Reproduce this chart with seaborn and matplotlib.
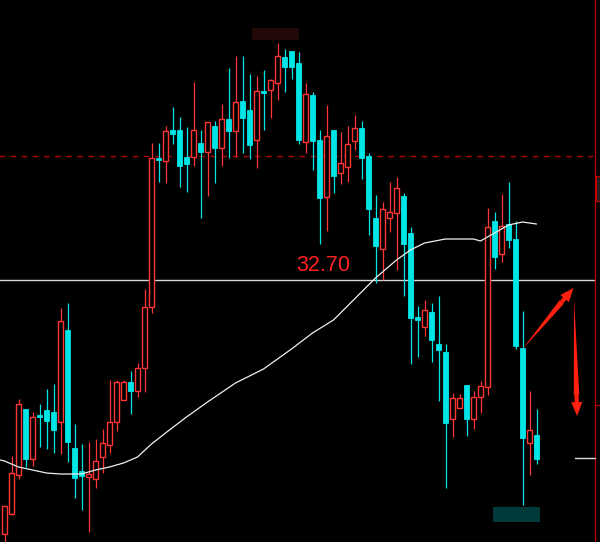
import numpy as np
import pandas as pd
import matplotlib
matplotlib.use("Agg")
import matplotlib.pyplot as plt
import seaborn as sns
from matplotlib.patches import Rectangle, FancyArrowPatch

# ======== DATA ==============================
opens = [27.62, 28.02, 28.80, 30.12, 29.12, 30.00, 30.10, 30.06, 29.86, 31.70,
         29.34, 28.88, 28.76, 28.72, 29.16, 29.40, 29.86, 30.30, 30.66, 30.48,
         30.94, 32.16, 35.14, 35.08, 35.70, 35.70, 35.16, 35.16, 35.44, 35.26,
         35.78, 35.34, 35.92, 35.68, 36.28, 36.10, 35.50, 36.48, 36.50, 36.64,
         37.16, 37.28, 37.04, 35.46, 36.40, 35.50, 34.36, 35.70, 34.84, 34.96,
         35.48, 35.74, 35.18, 33.94, 33.32, 33.94, 34.04, 34.38, 33.64, 31.96,
         31.76, 32.06, 31.42, 31.26, 29.92, 30.14, 30.60, 29.92, 30.36, 30.56,
         33.88, 33.22, 33.82, 33.52, 31.34, 29.44, 29.60]
highs = [28.18, 29.18, 30.32, 30.12, 30.06, 30.22, 30.52, 30.62, 32.14, 32.24,
         29.82, 29.42, 29.46, 29.52, 29.72, 30.70, 30.70, 30.70, 30.88, 31.04,
         32.52, 35.44, 35.44, 35.78, 36.16, 35.96, 35.76, 36.66, 35.70, 35.86,
         35.88, 36.22, 36.94, 37.18, 37.18, 36.82, 36.78, 36.90, 36.72, 37.44,
         37.32, 37.28, 37.26, 36.64, 36.46, 35.70, 36.20, 35.70, 35.66, 35.78,
         36.00, 35.88, 35.24, 34.40, 34.26, 34.66, 34.76, 34.44, 33.76, 32.18,
         32.30, 32.24, 32.38, 31.42, 30.44, 30.42, 30.60, 30.48, 30.68, 34.14,
         34.06, 34.42, 34.66, 33.88, 32.08, 30.48, 30.12]
lows = [27.46, 28.00, 28.72, 28.96, 28.98, 29.36, 29.32, 29.24, 29.22, 29.06,
        28.34, 28.10, 27.66, 28.54, 28.84, 29.24, 29.68, 30.30, 30.02, 30.36,
        30.46, 32.04, 34.66, 34.64, 35.42, 34.56, 34.46, 34.98, 33.94, 34.38,
        34.64, 34.98, 35.14, 35.16, 35.24, 35.12, 34.94, 35.70, 35.94, 36.30,
        36.46, 36.72, 35.42, 35.24, 34.90, 33.42, 33.68, 34.44, 34.62, 34.66,
        35.30, 34.72, 33.60, 32.64, 32.70, 33.66, 32.90, 32.38, 31.02, 31.16,
        31.58, 31.06, 30.28, 28.54, 29.56, 30.14, 29.58, 29.72, 30.04, 30.40,
        32.92, 33.06, 33.34, 31.32, 28.20, 28.80, 29.02]
closes = [28.18, 28.84, 30.22, 29.12, 29.96, 29.96, 29.88, 29.70, 31.88, 29.46,
          28.74, 28.78, 28.82, 29.08, 29.44, 29.86, 30.66, 30.66, 30.48, 30.94,
          32.16, 35.14, 35.10, 35.68, 35.62, 34.98, 35.02, 35.70, 35.26, 35.86,
          35.34, 35.92, 35.68, 36.26, 35.94, 35.40, 36.48, 36.44, 36.70, 37.18,
          36.96, 36.96, 35.50, 36.42, 35.48, 34.34, 35.58, 34.78, 35.04, 35.42,
          35.74, 35.14, 34.12, 33.38, 34.12, 34.06, 34.54, 33.42, 31.94, 31.90,
          32.10, 31.50, 31.30, 29.84, 30.34, 30.34, 29.92, 30.36, 30.58, 33.76,
          33.16, 33.78, 33.50, 31.38, 29.54, 29.70, 29.12]

# moving average line, sampled at candle positions
ma_idx = [-0.6, 0, 1, 2, 4, 6, 8, 11, 13, 15, 17, 19, 21, 23, 26, 29, 33, 37,
          41, 44, 47, 49, 53, 56, 58, 60, 63, 67, 68, 70, 72, 74, 76]
ma_val = [29.10, 29.08, 29.02, 28.96, 28.90, 28.84, 28.82, 28.82, 28.90, 28.96,
          29.04, 29.16, 29.42, 29.64, 29.96, 30.26, 30.64, 30.92, 31.32, 31.64,
          31.90, 32.18, 32.74, 33.10, 33.30, 33.44, 33.52, 33.52, 33.48, 33.64,
          33.80, 33.86, 33.82]

level_price = 32.70
level_label = "32.70"
dash_price = 35.18
right_mark = 29.13

df = pd.DataFrame({"open": opens, "high": highs, "low": lows, "close": closes})
df["idx"] = np.arange(len(df))
df["up"] = df["close"] >= df["open"]
ma = pd.DataFrame({"idx": ma_idx, "ma": ma_val})

# ======== STYLE =========
sns.set_style("dark", {"axes.facecolor": "#000000", "figure.facecolor": "#000000"})
plt.rcParams["font.family"] = ["Liberation Sans", "DejaVu Sans"]

RED = "#ff3434"
CYAN = "#00e6e6"
ARROW = "#ff2010"

fig = plt.figure(figsize=(6.0, 5.42), dpi=100)
ax = fig.add_axes([0, 0, 1, 1])
ax.set_facecolor("#000000")

# ======== CANDLES =========
col = np.where(df["up"], RED, CYAN)
ax.vlines(df["idx"], df["low"], df["high"], colors=col, linewidth=0.9, zorder=2)

body_lo = np.minimum(df["open"], df["close"])
body_h = np.maximum((df["close"] - df["open"]).abs(), 0.03)
up = df["up"].values
ax.bar(df["idx"][up], body_h[up], bottom=body_lo[up], width=0.62,
       facecolor="#000000", edgecolor=RED, linewidth=1.0, zorder=3)
ax.bar(df["idx"][~up], body_h[~up], bottom=body_lo[~up], width=0.66,
       facecolor=CYAN, edgecolor=CYAN, linewidth=0.6, zorder=3)

# moving average
sns.lineplot(data=ma, x="idx", y="ma", ax=ax, color="#f0f0f0", linewidth=0.9,
             zorder=4, legend=False)

# ======== LINES / ANNOTATIONS =========
x_right = (595 - 4.5) / 7
ax.plot([-1, x_right], [level_price, level_price], color="#d8d8d8", lw=1.0, zorder=1)
ax.plot([-1, x_right - 0.3], [dash_price, dash_price], color="#b00000", lw=1.0,
        ls=(0, (4, 4)), zorder=1)
ax.text(45.5, level_price + 0.08, level_label, color="#ff2020", fontsize=15.5,
        ha="center", va="bottom", zorder=5)

ax.axvline(x_right + 0.05, color="#c00000", lw=0.9, zorder=5)
ax.plot([x_right, 86], [30.20, 30.20], color="#c00000", lw=0.9, zorder=5)
ax.add_patch(Rectangle((x_right + 0.1, 34.28), 1.0, 0.5, facecolor="#202020",
                       edgecolor="#c00000", lw=0.9, zorder=5))
ax.plot([81.5, x_right], [right_mark, right_mark], color="#e0e0e0", lw=1.0, zorder=5)

# blurred label boxes
ax.add_patch(Rectangle((35.4, 37.50), 6.7, 0.24, facecolor="#230808", lw=0, zorder=1))
ax.add_patch(Rectangle((69.8, 27.86), 6.7, 0.30, facecolor="#003a3a", lw=0, zorder=1))


def tapered_arrow(tail, tip, neck):
    # shaft gets wider towards the head, then a solid head
    ax.add_patch(FancyArrowPatch(neck, tail, arrowstyle="wedge,tail_width=4,shrink_factor=0.5",
                                 color=ARROW, lw=0, zorder=6, shrinkA=0, shrinkB=0))
    ax.add_patch(FancyArrowPatch(neck, tip, arrowstyle="simple,head_length=10,head_width=8,tail_width=3",
                                 color=ARROW, lw=0, zorder=6, shrinkA=0, shrinkB=0))


tapered_arrow((73.9, 31.30), (81.3, 32.54), (79.6, 32.26))
tapered_arrow((81.35, 32.34), (81.8, 29.98), (81.72, 30.40))

# ======== AXES =========
ax.set_xlim(-4.5 / 7, (600 - 4.5) / 7)
ax.set_ylim(38.30 - 0.02 * 542, 38.30)
ax.set_axis_off()

fig.savefig("out.png", dpi=100, facecolor="#000000")
plt.close(fig)
